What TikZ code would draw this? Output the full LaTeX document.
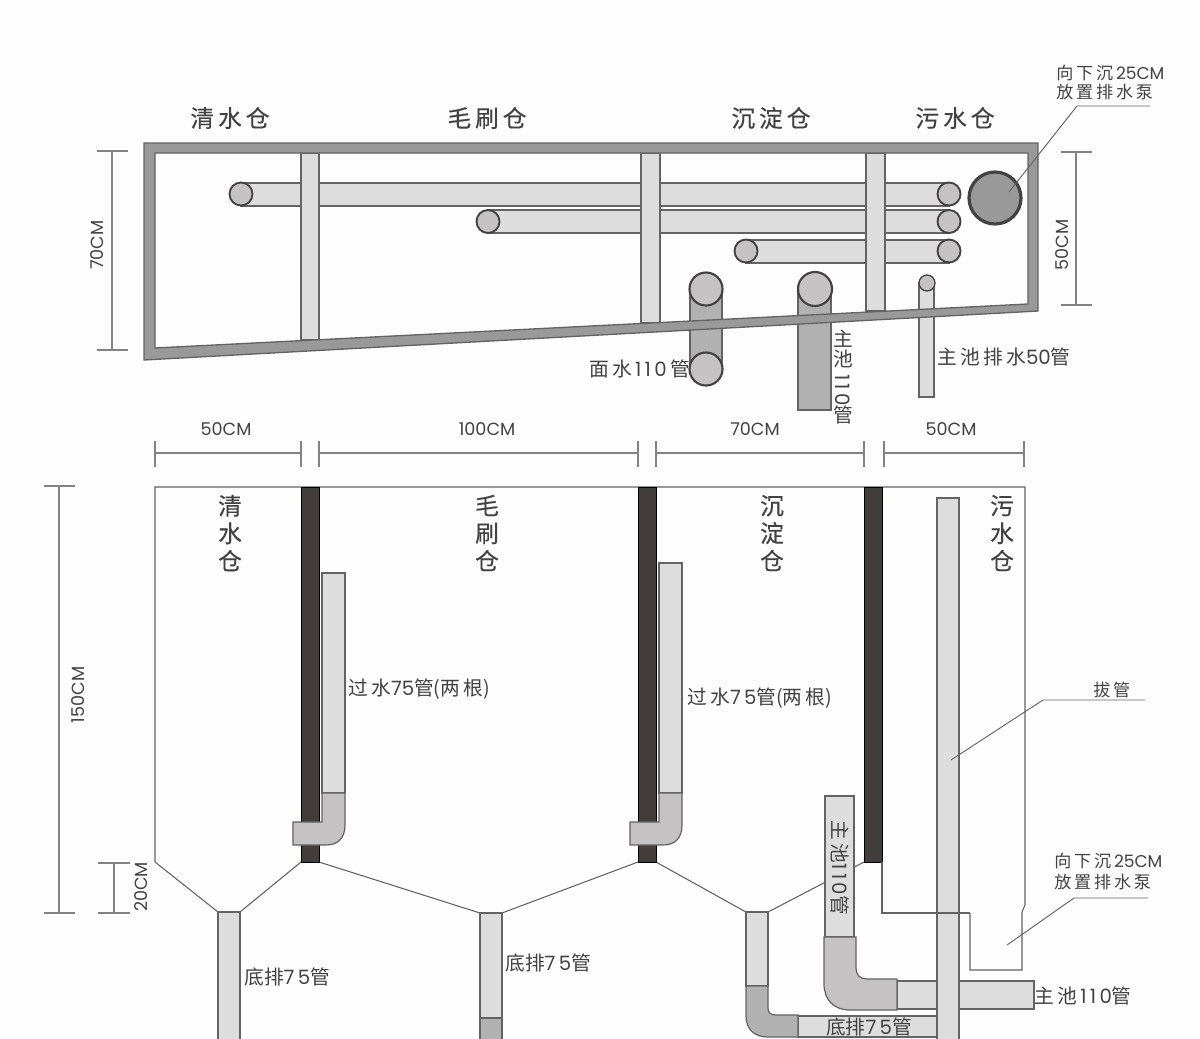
\documentclass[tikz,border=0pt]{standalone}
\usepackage{xcolor}
\usepackage{fontspec}
\setmainfont{Noto Sans CJK SC}
\newfontfamily\latfont{Poppins}
\newfontfamily\titlefont[FakeBold=0.3]{Noto Sans CJK SC}
\usepackage{graphicx}
\definecolor{wallgray}{RGB}{154, 153, 154}
\definecolor{edgegray}{RGB}{100, 99, 99}
\definecolor{pipelight}{RGB}{222, 221, 221}
\definecolor{pipemid}{RGB}{196, 194, 194}
\definecolor{pipedark}{RGB}{178, 177, 177}
\definecolor{boardblack}{RGB}{66, 60, 58}
\definecolor{dimgray}{RGB}{130, 130, 130}
\definecolor{inkgray}{RGB}{66, 66, 66}
\definecolor{papergray}{RGB}{253, 253, 253}
\tikzset{
  pipe/.style={draw=edgegray, fill=pipelight, line width=0.9pt},
  fitting/.style={draw=edgegray, fill=pipemid, line width=0.9pt},
  endcap/.style={draw=inkgray, fill=pipemid, line width=1.4pt},
  tankline/.style={draw=edgegray, line width=0.8pt},
  dimline/.style={draw=dimgray, line width=0.9pt},
  leader/.style={draw=edgegray, line width=0.7pt},
  title/.style={font=\titlefont\fontsize{17.8}{20.7}\selectfont, text=inkgray, inner sep=0pt, align=center},
  note/.style={font=\fontsize{14.8}{15}\selectfont, text=inkgray, inner sep=0pt},
  small/.style={font=\fontsize{12.8}{15}\selectfont, text=inkgray, inner sep=0pt, align=left},
  size/.style={font=\latfont\fontsize{13.2}{14}\selectfont, text=inkgray, inner sep=0pt}
}
\begin{document}
\begin{tikzpicture}[x=0.75pt, y=-0.75pt]
\fill[papergray] (0,0) rectangle (1200,1039);
\useasboundingbox (0,0) rectangle (1200,1039);

% Plan: vertical pipes under the frame
\draw[fitting, fill=pipedark] (690,289) rectangle (722,369);
\draw[fitting, fill=pipedark] (798,289) rectangle (831,410);
\draw[pipe] (919,283) rectangle (934,397);

% Plan: horizontal pipes
\draw[pipe] (241,183) rectangle (949,206);
\draw[pipe] (488,210) rectangle (949,233);
\draw[pipe] (746,240) rectangle (949,263);

% Plan: dividers
\draw[pipe] (301,153) rectangle (319,340);
\draw[pipe] (641,153) rectangle (660,323);
\draw[pipe] (866,153) rectangle (885,311);

% Plan: frame
\draw[draw=edgegray, fill=wallgray, line width=1pt, even odd rule]
  (144,143) -- (1038,143) -- (1038,311) -- (144,360) -- cycle
  (155,153) -- (1028,153) -- (1028,304) -- (155,348) -- cycle;

% Plan: pipe ends
\foreach \x/\y in {241/194,949/194,488/221.5,949/221.5,746/251,949/251} {
    \draw[endcap] (\x,\y) circle (11.5);
}
\draw[endcap, line width=1.6pt] (706,289) circle (16.5);
\draw[endcap, line width=1.6pt] (706,369) circle (16.5);
\draw[endcap, line width=1.6pt] (815,289) circle (17);
\draw[endcap, line width=1pt] (927,283) circle (8);
\draw[draw=inkgray, fill=wallgray, line width=2.4pt] (995,198) circle (26);

% Plan: titles
\foreach \x/\txt [count=\i] in {230/清\,水\,仓, 487/毛\,刷\,仓, 771/沉\,淀\,仓, 955/污\,水\,仓} {
    \node[title] (plan\i) at (\x,118) {\txt};
}

% Plan: sizes
\draw[dimline] (97,151) -- (128,151) (112,151) -- (112,350) (97,350) -- (128,350);
\node[size, rotate=90] (size70) at (97,245) {70CM};
\draw[dimline] (1061,152) -- (1092,152) (1076,152) -- (1076,305) (1061,305) -- (1092,305);
\node[size, rotate=90] (size50) at (1062,245) {50CM};

% Plan: labels
\node[small, anchor=west] (sinka) at (1056,73) {向\,下\,沉\,{\latfont 25CM}};
\node[small, anchor=west] (sinkb) at (1056,92) {放\,置\,排\,水\,泵};
\coordinate (sinkend) at (1009,192);
\draw[leader] (sinkend) -- (1077,106) -- (1150,106);
\node[note, anchor=east] (facepipe) at (690,369) {面\,水\,{\latfont 1\,1\,0}\,管};
\node[note, align=center] (mainpipe) at (843,377) {主\\池\\[-9pt]\rotatebox{-90}{\latfont 1\,1\,0}\\[-1pt]管};
\node[note, anchor=west] (drainpipe) at (937,357) {主\,池\,排\,水{\latfont 50}管};

% Section: widths
\foreach \xa/\xb/\xt/\txt [count=\i] in {155/301/226/50CM, 319/638/487/100CM, 656/864/755/70CM, 884/1024/951/50CM} {
    \draw[dimline] (\xa,441) -- (\xa,467) (\xa,453) -- (\xb,453) (\xb,441) -- (\xb,467);
    \node[size] (width\i) at (\xt,429) {\txt};
}

% Section: heights
\draw[dimline] (44,486) -- (75,486) (59,486) -- (59,913) (44,913) -- (75,913);
\node[size, rotate=90] (size150) at (78,695) {150CM};
\draw[dimline] (98,863) -- (130,863) (114,863) -- (114,913) (98,913) -- (130,913);
\node[size, rotate=90] (size20) at (141,887) {20CM};

% Section: tank outline
\draw[tankline] (882,487) -- (155,487) -- (155,862) -- (218,912);
\draw[tankline] (240,912) -- (301,862);
\draw[tankline] (319,862) -- (480,913);
\draw[tankline] (502,913) -- (638,862);
\draw[tankline] (656,862) -- (746,912);
\draw[tankline] (768,912) -- (864,862);
\draw[tankline] (882,487) -- (1025,487) -- (1025,905) -- (1022,912) -- (1022,970) -- (970,970) -- (970,913);

% Section: boards
\foreach \xa in {301,638,864} {
    \draw[draw=black, fill=boardblack, line width=0.6pt] (\xa,487) rectangle (\xa+18,862);
}

% Section: overflow pipes
\foreach \xa/\ya in {293/573,630/563} {
    \draw[pipe] (\xa+29,\ya) rectangle (\xa+52,793);
    \draw[fitting] (\xa+29,793) -- (\xa+52,793) -- (\xa+52,825)
       .. controls (\xa+52,838) and (\xa+45,845) .. (\xa+33,845)
       -- (\xa,845) -- (\xa,822) -- (\xa+29,822) -- cycle;
}

% Section: bottom drains
\draw[pipe] (218,912) rectangle (240,1045);
\draw[pipe] (480,913) rectangle (502,1018);
\draw[fitting, fill=pipedark] (480,1018) rectangle (502,1045);
\draw[pipe] (746,912) rectangle (768,986);
\draw[pipe] (798,1016) rectangle (937,1037);
\draw[fitting, fill=pipedark] (746,986) -- (768,986) -- (768,1008)
   .. controls (768,1013) and (771,1015) .. (776,1015)
   -- (798,1015) -- (798,1037) -- (768,1037)
   .. controls (754,1037) and (746,1029) .. (746,1016) -- cycle;

% Section: main pool pipe
\draw[pipe] (825,796) rectangle (854,937);
\draw[pipe] (897,981) rectangle (1034,1009);
\draw[fitting] (824,937) -- (856,937) -- (856,968)
   .. controls (856,975) and (860,979) .. (867,979)
   -- (897,979) -- (897,1010) -- (850,1010)
   .. controls (834,1010) and (824,1000) .. (824,984) -- cycle;

% Section: pump pipe and sump line
\draw[pipe] (937,498) rectangle (959,1045);
\draw[tankline] (882,862) -- (882,913) -- (970,913);

% Section: titles
\foreach \x/\txt [count=\i] in {230/清\\水\\仓, 487/毛\\刷\\仓, 772/沉\\淀\\仓, 1002/污\\水\\仓} {
    \node[title] (tank\i) at (\x,533) {\txt};
}

% Section: labels
\node[note, anchor=west] (transa) at (348,689) {过\,水{\latfont 75}管(两\,根)};
\node[note, anchor=west] (transb) at (687,698) {过\,水{\latfont 7\,5}管(两\,根)};
\node[note, anchor=west] (bottoma) at (244,977) {底排{\latfont 7\,5}管};
\node[note, anchor=west] (bottomb) at (505,963) {底排{\latfont 7\,5}管};
\node[note] (bottomc) at (869,1027) {底排{\latfont 7\,5}管};
\node[note, rotate=-90] (mainside) at (840,868) {主\,池{\latfont 1\,1\,0}管};
\node[note, anchor=west] (mainend) at (1034,996) {主\,池\,{\latfont 1\,1\,0}管};
\node[small, anchor=west] (raisepipe) at (1093,690) {拔\,管};
\coordinate (raiseend) at (951,760);
\draw[leader] (raiseend) -- (1043,700) -- (1145,700);
\node[small, anchor=west] (sumpa) at (1054,861) {向\,下\,沉\,{\latfont 25CM}};
\node[small, anchor=west] (sumpb) at (1054,882) {放\,置\,排\,水\,泵};
\coordinate (sumpend) at (1007,945);
\draw[leader] (sumpend) -- (1074,898) -- (1148,898);
\end{tikzpicture}
\end{document}
